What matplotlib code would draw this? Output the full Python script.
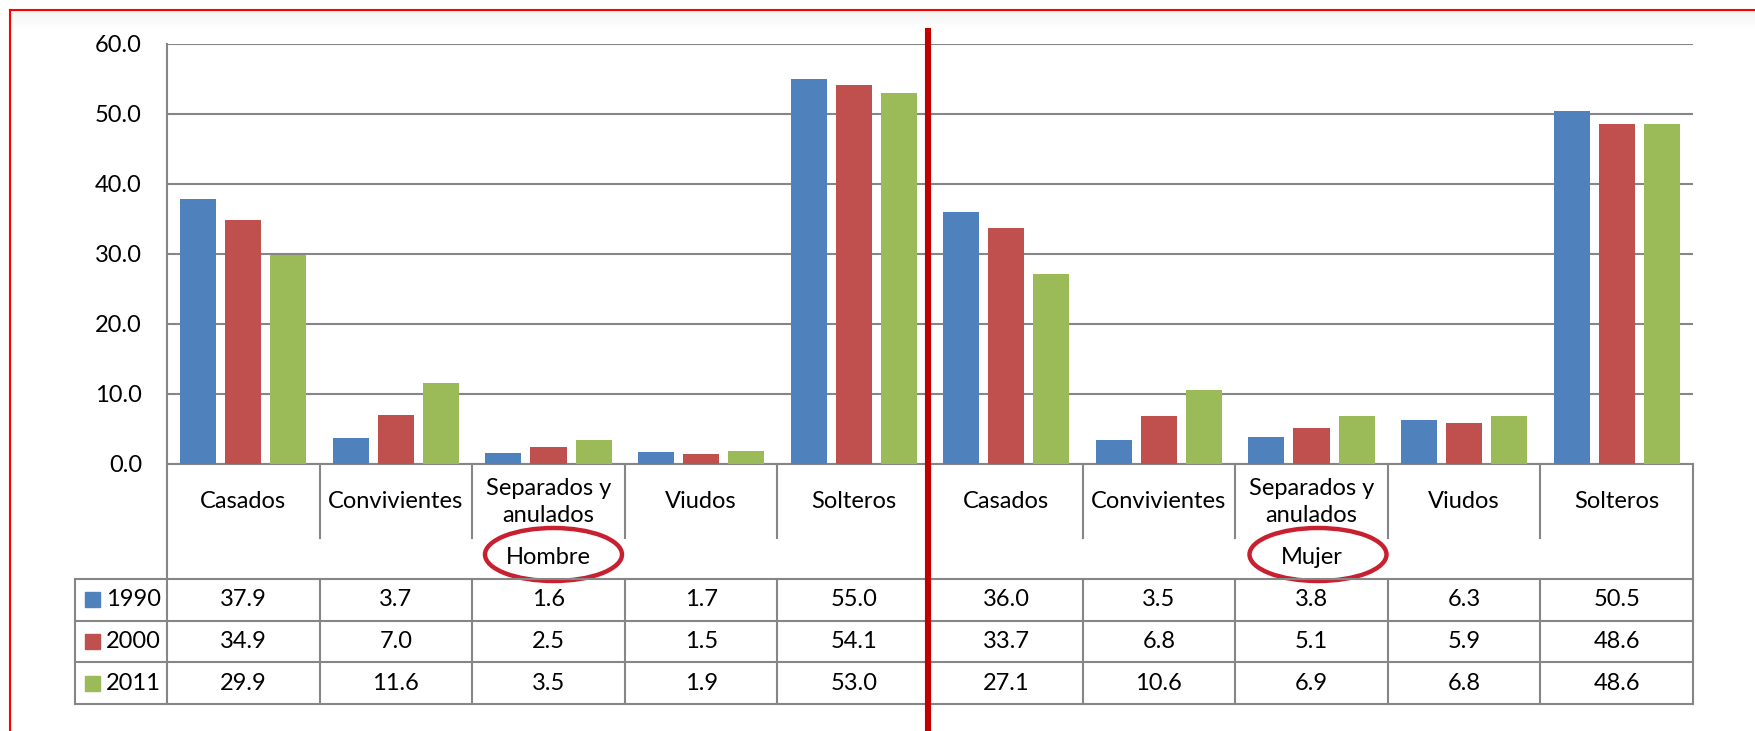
import matplotlib.pyplot as plt
import numpy as np
from matplotlib.patches import Ellipse, Rectangle
from matplotlib.transforms import blended_transform_factory

categorias = ['Casados', 'Convivientes', 'Separados y\nanulados', 'Viudos', 'Solteros'] * 2
grupos = ['Hombre', 'Mujer']
anios = ['1990', '2000', '2011']
v1990 = [37.9, 3.7, 1.6, 1.7, 55.0, 36.0, 3.5, 3.8, 6.3, 50.5]
v2000 = [34.9, 7.0, 2.5, 1.5, 54.1, 33.7, 6.8, 5.1, 5.9, 48.6]
v2011 = [29.9, 11.6, 3.5, 1.9, 53.0, 27.1, 10.6, 6.9, 6.8, 48.6]
series = [v1990, v2000, v2011]
colores = ['#4F81BD', '#C0504D', '#9BBB59']

plt.rcParams['font.family'] = ['Lato', 'DejaVu Sans']
FS = 17
W, H = 1756, 731
fig = plt.figure(figsize=(W / 100, H / 100), dpi=100)

# main chart area
ax = fig.add_axes([167 / W, 1 - 464 / H, (1693 - 167) / W, (464 - 44) / H])
x = np.arange(len(categorias))
for j, (vals, c) in enumerate(zip(series, colores)):
    ax.bar(x + (j - 1) * 0.295, vals, 0.236, color=c, zorder=3)
ax.set_xlim(-0.5, len(categorias) - 0.5)
ax.set_ylim(0, 60)
ax.set_yticks(np.arange(0, 61, 10))
ax.set_yticklabels([f'{t:.1f}' for t in np.arange(0, 61, 10)], fontsize=FS)
ax.set_xticks([])
ax.tick_params(axis='y', length=0, pad=18)
ax.grid(axis='y', color='#868686', lw=1.5, zorder=0)
for s in ['top', 'right']:
    ax.spines[s].set_visible(False)
for s in ['left', 'bottom']:
    ax.spines[s].set_color('#868686')
    ax.spines[s].set_linewidth(1.5)

# overlay in pixel coordinates (y from top)
ov = fig.add_axes([0, 0, 1, 1], zorder=5)
ov.set_xlim(0, W)
ov.set_ylim(H, 0)
ov.axis('off')
ov.patch.set_alpha(0)
tr = blended_transform_factory(ax.transData, ov.transData)
gris = '#868686'

# soft shadow under the top border
grad = np.linspace(0.10, 0, 20).reshape(-1, 1)
ov.imshow(grad, extent=(11, W, 30, 10), cmap='Greys', vmin=0, vmax=1, aspect='auto')

# category labels
for i, lab in enumerate(categorias):
    ov.text(i, 502, lab, transform=tr, ha='center', va='center', fontsize=FS, linespacing=1.3)
for k in range(1, len(categorias)):
    y1 = 579 if k == 5 else 538
    ov.plot([k - 0.5, k - 0.5], [464, y1], transform=tr, color=gris, lw=1.5)
for k in [-0.5, len(categorias) - 0.5]:
    ov.plot([k, k], [464, 704], transform=tr, color=gris, lw=1.5)

# group labels with red ellipses
for g, lab in enumerate(grupos):
    ov.text(2 + 5 * g, 558, lab, transform=tr, ha='center', va='center', fontsize=FS)
for cx in [553.5, 1318]:
    ov.add_patch(Ellipse((cx, 554.5), 137, 53, fill=False, ec='#C8202F', lw=3.2))

# data table
filas = [579, 620.7, 662.3, 704]
for yy in filas:
    ov.plot([75, 1693], [yy, yy], color=gris, lw=1.5)
ov.plot([75, 75], [filas[0], filas[-1]], color=gris, lw=1.5)
for k in range(1, len(categorias)):
    ov.plot([k - 0.5, k - 0.5], [filas[0], filas[-1]], transform=tr, color=gris, lw=1.5)
for r, (anio, vals, c) in enumerate(zip(anios, series, colores)):
    yc = (filas[r] + filas[r + 1]) / 2
    ov.add_patch(Rectangle((85, yc - 7.5), 15, 15, color=c))
    ov.text(106, yc, anio, ha='left', va='center', fontsize=FS)
    for i, v in enumerate(vals):
        ov.text(i, yc, f'{v:.1f}', transform=tr, ha='center', va='center', fontsize=FS)

# red markers
ov.plot([928, 928], [28, H], color='#C00000', lw=4.4, solid_capstyle='butt')
ov.plot([10, W], [9.5, 9.5], color='#FF0000', lw=1.5)
ov.plot([10, 10], [9.5, H], color='#FF0000', lw=1.5)

fig.savefig('out.png', dpi=100)
